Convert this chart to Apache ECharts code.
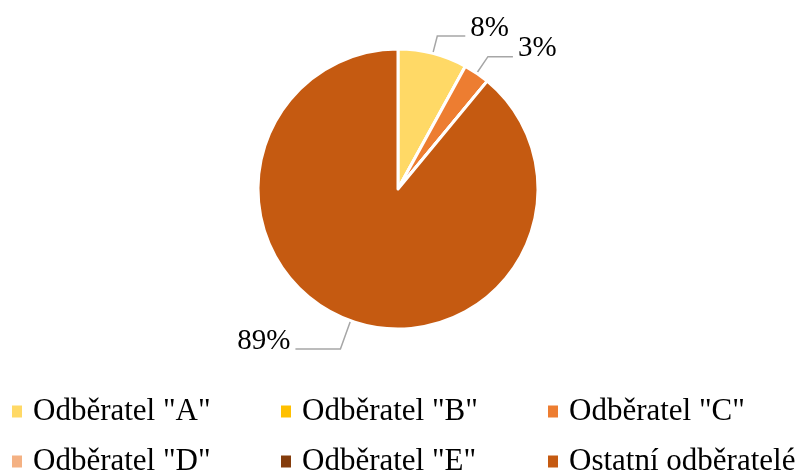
<!DOCTYPE html>
<html>
<head>
<meta charset="UTF-8" />
<title>Odběratelé</title>
<script src="https://cdn.jsdelivr.net/npm/echarts@6/dist/echarts.min.js"></script>
<style>
  html, body { margin: 0; padding: 0; background: #fff; }
  #chart { width: 801px; height: 475px; }
</style>
</head>
<body>
<div id="chart"></div>
<script>
// data
var names = ['Odběratel "A"', 'Odběratel "B"', 'Odběratel "C"', 'Odběratel "D"', 'Odběratel "E"', 'Ostatní odběratelé'];
var shares = [8, 0, 3, 0, 0, 89];
var colors = ['#FFD966', '#FFC000', '#ED7D31', '#F4B183', '#843C0C', '#C55A11'];

var font = 'Liberation Serif';

// leader line tweaks (Excel does not draw them radially)
var lineTweak = {
    'Odběratel "A"': { length: 18, length2: 28 },
    'Odběratel "C"': { length: 20, length2: 25 },
    'Ostatní odběratelé': { length: 30, length2: 45 }
};

var pieData = names.map(function (n, i) {
    var item = { name: n, value: shares[i] };
    if (shares[i] === 0) {
        item.label = { show: false };
        item.labelLine = { show: false };
    } else if (lineTweak[n]) {
        item.labelLine = lineTweak[n];
    }
    return item;
});

// legend: 3 columns x 2 rows, one legend per item so columns line up
var colX = [12, 281, 548];
var rowY = [396, 446];
var legends = names.map(function (n, i) {
    return {
        orient: 'horizontal',
        left: colX[i % 3],
        top: rowY[Math.floor(i / 3)],
        padding: 0,
        itemWidth: 10,
        itemHeight: 12,
        itemStyle: { borderWidth: 0 },
        icon: 'rect',
        data: [n],
        textStyle: { fontFamily: font, fontSize: 31, color: '#000', padding: [0, 0, 0, 6] }
    };
});

var chart = echarts.init(document.getElementById('chart'));
chart.setOption({
    animation: false,
    color: colors,
    legend: legends,
    series: [{
        type: 'pie',
        center: [398, 189],
        radius: [0, 140],
        startAngle: 90,
        clockwise: true,
        avoidLabelOverlap: false,
        itemStyle: { borderColor: '#fff', borderWidth: 3 },
        label: {
            show: true,
            position: 'outside',
            formatter: function (p) { return '{p|' + Math.round(p.percent) + '%}'; },
            rich: {
                p: {
                    fontFamily: font,
                    fontSize: 29,
                    color: '#000',
                    padding: [0, 0, 16, 0]
                }
            }
        },
        labelLine: {
            show: true,
            length: 20,
            length2: 12,
            lineStyle: { color: '#a6a6a6', width: 1.5 }
        },
        emphasis: { disabled: true },
        data: pieData
    }]
});
</script>
</body>
</html>
